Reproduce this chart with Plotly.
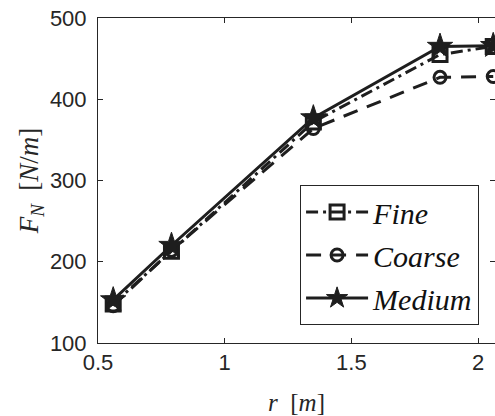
import plotly.graph_objects as go

# Normal force per unit length versus radius for three mesh resolutions
r_vals = [0.56, 0.79, 1.35, 1.85, 2.06]
fn_fine = [148, 213, 372, 455, 465]
fn_coarse = [146, 214, 364, 427, 428]
fn_medium = [153, 220, 377, 465, 466]

x_ticks = [0.5, 1, 1.5, 2]
x_tick_text = ["0.5", "1", "1.5", "2"]
y_ticks = [100, 200, 300, 400, 500]

INK = "#262626"
LINE = "#1e1e1e"
SANS = "Liberation Sans"
SERIF = "Liberation Serif"

fig = go.Figure()

fig.add_trace(go.Scatter(
    x=r_vals, y=fn_fine, name="<i>Fine</i>", mode="lines+markers",
    legendgroup="fine",
    line=dict(color=LINE, width=3, dash="12px,5px,3px,5px"),
    marker=dict(symbol="square-open", size=14, color=LINE,
                line=dict(width=3, color=LINE)),
))
fig.add_trace(go.Scatter(
    x=r_vals, y=fn_coarse, name="<i>Coarse</i>", mode="lines+markers",
    legendgroup="coarse",
    line=dict(color=LINE, width=3, dash="15px,10px"),
    marker=dict(symbol="circle-open", size=12, color=LINE,
                line=dict(width=3, color=LINE)),
))
fig.add_trace(go.Scatter(
    x=r_vals, y=fn_medium, name="<i>Medium</i>", mode="lines+markers",
    legendgroup="medium",
    line=dict(color=LINE, width=3),
    marker=dict(symbol="star", size=19, color=LINE,
                line=dict(width=1, color=LINE)),
))
# empty trace on the overlaid axis that carries the right-hand ticks
fig.add_trace(go.Scatter(x=[], y=[], yaxis="y2", showlegend=False,
                         hoverinfo="skip"))

fig.update_layout(
    width=495, height=416,
    margin=dict(l=98, r=0, t=18, b=73),
    plot_bgcolor="white", paper_bgcolor="white",
    showlegend=True,
    legend=dict(
        x=0.509, y=0.486, xanchor="left", yanchor="top",
        bgcolor="white", bordercolor=INK, borderwidth=1,
        font=dict(family=SERIF, size=30, color="#111111"),
        traceorder="grouped", tracegroupgap=1, itemwidth=62,
    ),
    xaxis=dict(
        range=[0.5, 2.067], tickvals=x_ticks, ticktext=x_tick_text,
        showline=True, linecolor=INK, linewidth=1, mirror="ticks",
        ticks="inside", ticklen=5, tickcolor=INK, showgrid=False,
        zeroline=False, tickfont=dict(family=SANS, size=22, color=INK),
        title=dict(text="<i>r</i>&nbsp;&nbsp;[<i>m</i>]",
                   font=dict(family=SERIF, size=25, color=INK), standoff=20),
    ),
    yaxis=dict(
        range=[100, 500], tickvals=y_ticks,
        showline=True, linecolor=INK, linewidth=1, mirror=False,
        ticks="inside", ticklen=5, tickcolor=INK, showgrid=False,
        zeroline=False, tickfont=dict(family=SANS, size=22, color=INK),
        ticklabelstandoff=6,
        title=dict(text="<i>F</i><sub><i>N</i></sub>&nbsp;&nbsp;[<i>N</i>/<i>m</i>]",
                   font=dict(family=SERIF, size=27, color=INK), standoff=3),
    ),
    yaxis2=dict(
        overlaying="y", side="right", range=[100, 500], tickvals=y_ticks,
        showline=False, ticks="inside", ticklen=5, tickcolor=INK,
        showticklabels=False, showgrid=False, zeroline=False,
    ),
)

fig.write_html("out.html")
